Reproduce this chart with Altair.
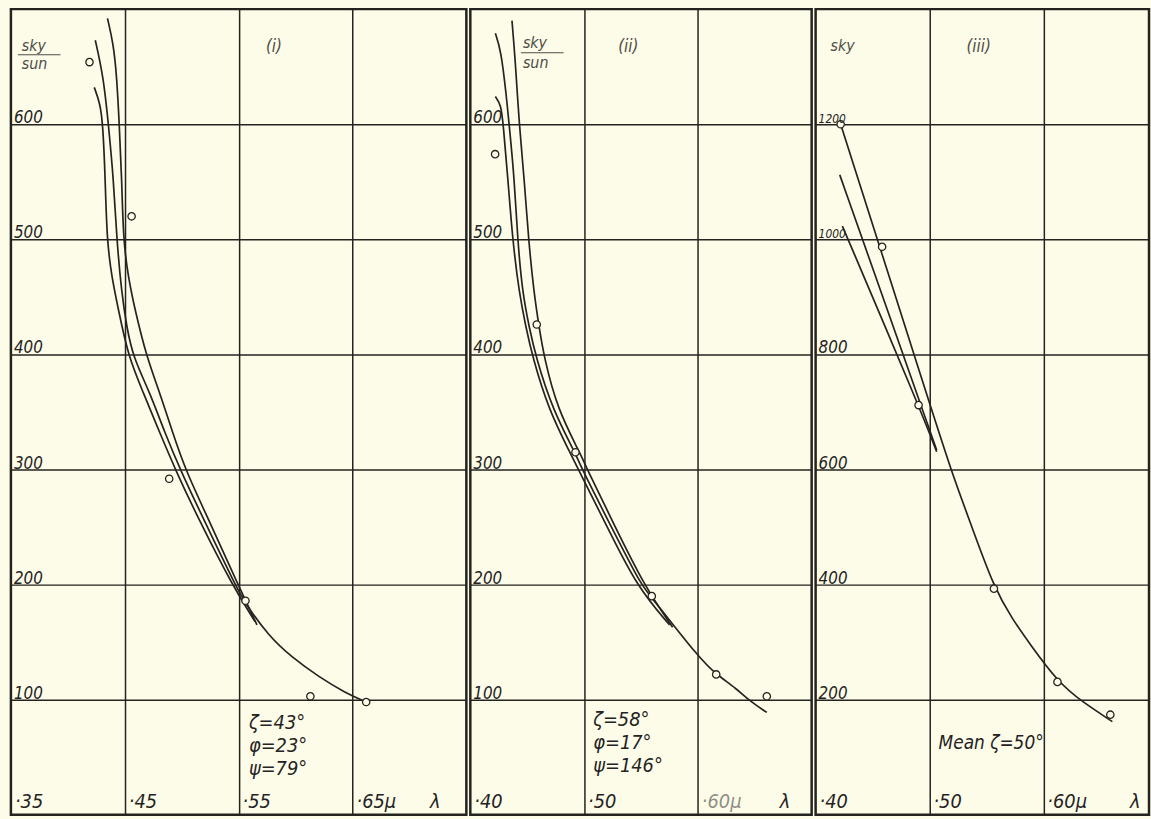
import altair as alt
import pandas as pd

INK = "#24231f"
FAINT = "#8f8e86"
GREY = "#4f4e47"
PAPER = "#fdfce8"
FONT = "Liberation Sans Narrow, DejaVu Sans Condensed, Liberation Sans, sans-serif"

# ---------------- Panel (i): zeta = 43 deg ----------------
p1_obs_lam = [0.419, 0.456, 0.489, 0.556, 0.613, 0.662]
p1_obs_val = [654, 520, 292, 186, 103, 98]

p1_left_lam = [0.4232, 0.4284, 0.4308, 0.4328, 0.4343, 0.4386, 0.4444, 0.4531,
               0.4662, 0.4807, 0.4953, 0.5138, 0.5452, 0.5644]
p1_left_val = [632, 618, 599, 554, 499, 467, 439, 398, 367, 332, 298, 259, 198, 168]

p1_mid_lam = [0.4241, 0.4313, 0.4357, 0.4400, 0.4430, 0.4473, 0.4517, 0.4572,
              0.4720, 0.4851, 0.4996, 0.5182, 0.5478, 0.5557, 0.5766, 0.5966,
              0.6202, 0.6437, 0.6620]
p1_mid_val = [673, 641, 599, 554, 499, 453, 424, 398, 367, 332, 298, 259, 198,
              184, 155, 137, 120, 106, 98]

p1_right_lam = [0.4348, 0.4400, 0.4430, 0.4452, 0.4473, 0.4487, 0.4531, 0.4589,
                0.4691, 0.4807, 0.4920, 0.5040, 0.5225, 0.5504, 0.5661]
p1_right_val = [692, 670, 641, 599, 554, 499, 467, 439, 398, 367, 332, 298, 259, 198, 165]

# ---------------- Panel (ii): zeta = 58 deg ----------------
p2_obs_lam = [0.4218, 0.4584, 0.4924, 0.5595, 0.6161, 0.6606]
p2_obs_val = [574, 426, 315, 190, 122, 103]

p2_left_lam = [0.4220, 0.4270, 0.4290, 0.4329, 0.4372, 0.4430, 0.4488, 0.4546,
               0.4688, 0.4880, 0.4959, 0.5185, 0.5464, 0.5752]
p2_left_val = [624, 617, 599, 554, 499, 453, 424, 398, 352, 314, 298, 254, 198, 165]

p2_mid_lam = [0.4220, 0.4270, 0.4314, 0.4342, 0.4386, 0.4416, 0.4459, 0.4517,
              0.4575, 0.4723, 0.4924, 0.4993, 0.5220, 0.5508, 0.5595, 0.6013,
              0.6161, 0.6336, 0.6466, 0.6606]
p2_mid_val = [679, 664, 627, 599, 554, 499, 453, 424, 398, 352, 314, 298, 254,
              198, 189, 136, 122, 110, 98, 89]

p2_right_lam = [0.4366, 0.4395, 0.4430, 0.4473, 0.4512, 0.4560, 0.4604, 0.4647,
                0.4767, 0.4967, 0.5037, 0.5255, 0.5534, 0.5778]
p2_right_val = [690, 656, 599, 554, 499, 453, 424, 398, 352, 314, 298, 254, 198, 163]

# ---------------- Panel (iii): mean zeta = 50 deg ----------------
p3_obs_lam = [0.4220, 0.4584, 0.4904, 0.5566, 0.6124, 0.6588]
p3_obs_val = [1200, 987, 712, 393, 231, 174]

p3_upper_lam = [0.4220, 0.4991, 0.5194, 0.5351, 0.5569, 0.5732, 0.5874, 0.6126, 0.6344, 0.6606]
p3_upper_val = [1200, 721, 596, 512, 393, 339, 299, 231, 196, 162]

p3_mid_lam = [0.4212, 0.4599, 0.5063]
p3_mid_val = [1112, 895, 634]

p3_lower_lam = [0.4235, 0.4904, 0.5063]
p3_lower_val = [1023, 712, 631]

# ---------------- grid and tick labels ----------------
p1_xgrid = [0.45, 0.55, 0.65]
p1_xticks = [0.35, 0.45, 0.55, 0.65]
p1_xlabels = ["·35", "·45", "·55", "·65μ"]
p2_xgrid = [0.50, 0.60]
p2_xticks = [0.40, 0.50, 0.60]
p2_xlabels = ["·40", "·50", "·60μ"]
p3_xgrid = [0.50, 0.60]
p3_xticks = [0.40, 0.50, 0.60]
p3_xlabels = ["·40", "·50", "·60μ"]

p12_yticks = [100, 200, 300, 400, 500, 600]
p3_yticks = [200, 400, 600, 800, 1000, 1200]

PANEL_H = 812


def curves_frame(series):
    rows = []
    for name, lam, val in series:
        for i, (a, b) in enumerate(zip(lam, val)):
            rows.append({"curve": name, "seq": i, "lam": a, "val": b})
    return pd.DataFrame(rows)


def panel(series, obs_lam, obs_val, xdom, ydom, xgrid, ygrid, xticks, xlabels,
          faint_x, lam_pos, notes, note_size, heads, width, extra=()):
    xs = alt.Scale(domain=xdom, nice=False, zero=False)
    ys = alt.Scale(domain=ydom, nice=False, zero=False)
    common = dict(grid=True, labels=False, ticks=False, domain=False, title=None,
                  gridColor=INK, gridWidth=1.5, gridOpacity=1)
    X = alt.X("lam:Q", scale=xs, axis=alt.Axis(values=xgrid, **common))
    Y = alt.Y("val:Q", scale=ys, axis=alt.Axis(values=ygrid, **common))

    lines = alt.Chart(curves_frame(series)).mark_line(
        color=INK, strokeWidth=1.7, interpolate="basis"
    ).encode(x=X, y=Y, detail="curve:N", order="seq:Q")

    pts = alt.Chart(pd.DataFrame({"lam": obs_lam, "val": obs_val})).mark_point(
        shape="circle", filled=True, fill=PAPER, stroke=INK, strokeWidth=1.3,
        size=55, opacity=1
    ).encode(x=X, y=Y)

    ylab_df = pd.DataFrame({"lam": [xdom[0]] * len(ygrid), "val": ygrid,
                            "txt": [str(v) for v in ygrid]})
    ylab_df["fs"] = [12 if len(t) > 3 else 17 for t in ylab_df["txt"]]
    ylab = alt.Chart(ylab_df).mark_text(
        align="left", baseline="alphabetic", dx=3, dy=-1, font=FONT,
        fontStyle="italic", color=INK
    ).encode(x=X, y=Y, text="txt:N", size=alt.Size("fs:Q", scale=None, legend=None))

    xlab_df = pd.DataFrame({"lam": xticks, "val": [ydom[0]] * len(xticks), "txt": xlabels})
    xlab_df["col"] = [FAINT if t in faint_x else INK for t in xlabels]
    xlab = alt.Chart(xlab_df).mark_text(
        align="left", baseline="alphabetic", dx=4, dy=-7, font=FONT,
        fontStyle="italic", fontSize=20
    ).encode(x=X, y=Y, text="txt:N", color=alt.Color("col:N", scale=None, legend=None))

    lam_df = pd.DataFrame({"lam": [lam_pos], "val": [ydom[0]], "txt": ["λ"]})
    lam_txt = alt.Chart(lam_df).mark_text(
        align="left", baseline="alphabetic", dy=-7, font=FONT, fontStyle="italic",
        fontSize=20, color=INK
    ).encode(x=X, y=Y, text="txt:N")

    note_df = pd.DataFrame(notes, columns=["lam", "val", "txt"])
    note_txt = alt.Chart(note_df).mark_text(
        align="left", baseline="middle", font=FONT, fontStyle="italic",
        fontSize=note_size, color=INK
    ).encode(x=X, y=Y, text="txt:N")

    layers = [lines, pts, ylab, xlab, lam_txt, note_txt]
    for txt, px, py, fs in heads:
        layers.append(
            alt.Chart(pd.DataFrame({"t": [txt]})).mark_text(
                align="left", baseline="middle", font=FONT, fontStyle="italic",
                fontSize=fs, color=GREY
            ).encode(x=alt.value(px), y=alt.value(py), text="t:N")
        )
    layers.extend(extra)
    return alt.layer(*layers).properties(width=width, height=PANEL_H)


def fraction_bar(x0, x1, yy):
    # the short rule between "sky" and "sun"
    return alt.Chart(pd.DataFrame({"a": [0]})).mark_rule(
        color=GREY, strokeWidth=1.1
    ).encode(x=alt.value(x0), x2=alt.value(x1), y=alt.value(yy))


panel1 = panel(
    [("a", p1_left_lam, p1_left_val), ("b", p1_mid_lam, p1_mid_val),
     ("c", p1_right_lam, p1_right_val)],
    p1_obs_lam, p1_obs_val, [0.35, 0.75], [0, 700], p1_xgrid, p12_yticks,
    p1_xticks, p1_xlabels, [], 0.718,
    [(0.559, 80, "ζ=43°"), (0.559, 60, "φ=23°"), (0.559, 40, "ψ=79°")], 20,
    [("sky", 11, 37, 16), ("sun", 11, 55, 16), ("(i)", 257, 38, 17)],
    459, extra=[fraction_bar(7, 50, 46)],
)

panel2 = panel(
    [("a", p2_left_lam, p2_left_val), ("b", p2_mid_lam, p2_mid_val),
     ("c", p2_right_lam, p2_right_val)],
    p2_obs_lam, p2_obs_val, [0.40, 0.70], [0, 700], p2_xgrid, p12_yticks,
    p2_xticks, p2_xlabels, ["·60μ"], 0.672,
    [(0.508, 82, "ζ=58°"), (0.508, 62, "φ=17°"), (0.508, 42, "ψ=146°")], 20,
    [("sky", 53, 34, 16), ("sun", 53, 54, 16), ("(ii)", 149, 38, 17)],
    344, extra=[fraction_bar(51, 94, 44)],
)

panel3 = panel(
    [("a", p3_upper_lam, p3_upper_val), ("b", p3_mid_lam, p3_mid_val),
     ("c", p3_lower_lam, p3_lower_val)],
    p3_obs_lam, p3_obs_val, [0.40, 0.6928], [0, 1400], p3_xgrid, p3_yticks,
    p3_xticks, p3_xlabels, [], 0.676,
    [(0.508, 125, "Mean ζ=50°")], 19,
    [("sky", 15, 37, 16), ("(iii)", 152, 38, 17)],
    336,
)

chart = alt.hconcat(panel1, panel2, panel3, spacing=0).properties(
    background=PAPER,
    padding={"left": 9, "top": 4, "right": 0, "bottom": 0},
).configure_view(stroke=INK, strokeWidth=2.5)

chart.save("out.html", embed_options={"renderer": "svg", "actions": False})
